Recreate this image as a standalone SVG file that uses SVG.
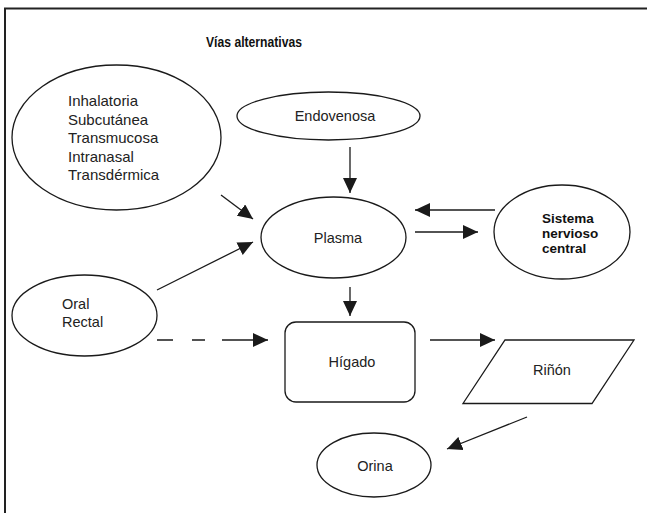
<svg xmlns="http://www.w3.org/2000/svg" width="647" height="513" viewBox="0 0 647 513">
<defs>
<marker id="ah" markerUnits="userSpaceOnUse" markerWidth="16" markerHeight="14" refX="15" refY="7" orient="auto">
<path d="M0,0 L15,7 L0,14 Z" fill="#1a1a1a"/>
</marker>
<style>
.n{fill:#fff;stroke:#1a1a1a;stroke-width:1.3}
.t{font-family:"Liberation Sans",Arial,sans-serif;font-size:14.5px;fill:#222}
.v{font-size:15px}
.b{font-family:"Liberation Sans",Arial,sans-serif;font-size:13.5px;font-weight:bold;fill:#111}
.ti{font-size:15px}
.c{stroke:#1a1a1a;stroke-width:1.3;fill:none}
</style>
</defs>
<rect width="647" height="513" fill="#fff"/>
<path d="M5,513 V8.5 H647" fill="none" stroke="#222" stroke-width="2"/>
<text x="206" y="47" class="b ti" textLength="96" lengthAdjust="spacingAndGlyphs">Vías alternativas</text>

<g id="vias">
<ellipse class="n" cx="116.5" cy="137.5" rx="104.5" ry="72.5"/>
<text class="t v" x="68" y="106">Inhalatoria</text>
<text class="t v" x="68" y="124.5">Subcutánea</text>
<text class="t v" x="68" y="143">Transmucosa</text>
<text class="t v" x="68" y="161.5">Intranasal</text>
<text class="t v" x="68" y="180">Transdérmica</text>
</g>
<g id="endovenosa">
<ellipse class="n" cx="328.5" cy="116" rx="91.5" ry="24"/>
<text class="t" x="335" y="121" text-anchor="middle">Endovenosa</text>
</g>
<g id="plasma">
<ellipse class="n" cx="333.5" cy="237.5" rx="72.5" ry="40.5"/>
<text class="t" x="338" y="243" text-anchor="middle">Plasma</text>
</g>
<g id="snc">
<ellipse class="n" cx="562" cy="232" rx="68" ry="47"/>
<text class="b" x="542" y="223">Sistema</text>
<text class="b" x="542" y="238">nervioso</text>
<text class="b" x="542" y="253">central</text>
</g>
<g id="oral">
<ellipse class="n" cx="84.5" cy="315.5" rx="72.5" ry="40.5"/>
<text class="t" x="62" y="309">Oral</text>
<text class="t" x="62" y="327">Rectal</text>
</g>
<g id="higado">
<rect class="n" x="285" y="322" width="130" height="80" rx="11"/>
<text class="t" x="352" y="367" text-anchor="middle">Hígado</text>
</g>
<g id="rinon">
<polygon class="n" points="505,340 634,340 592,403.5 463,403.5"/>
<text class="t" x="552" y="375" text-anchor="middle">Riñón</text>
</g>
<g id="orina">
<ellipse class="n" cx="374" cy="465" rx="57" ry="32"/>
<text class="t" x="375" y="471" text-anchor="middle">Orina</text>
</g>

<g id="connectors">
<line class="c" x1="350" y1="147" x2="350" y2="193" marker-end="url(#ah)"/>
<line class="c" x1="221" y1="195" x2="253" y2="219" marker-end="url(#ah)"/>
<line class="c" x1="157" y1="290" x2="253" y2="242" marker-end="url(#ah)"/>
<line class="c" x1="415" y1="232" x2="478" y2="232" marker-end="url(#ah)"/>
<line class="c" x1="495" y1="210" x2="415" y2="210" marker-end="url(#ah)"/>
<line class="c" x1="350" y1="287" x2="350" y2="316" marker-end="url(#ah)"/>
<path class="c" d="M157,340 H173 M192,340 H205"/>
<line class="c" x1="222" y1="340" x2="268" y2="340" marker-end="url(#ah)"/>
<line class="c" x1="430" y1="340" x2="495" y2="340" marker-end="url(#ah)"/>
<line class="c" x1="527" y1="417" x2="447" y2="449" marker-end="url(#ah)"/>
</g>
</svg>
